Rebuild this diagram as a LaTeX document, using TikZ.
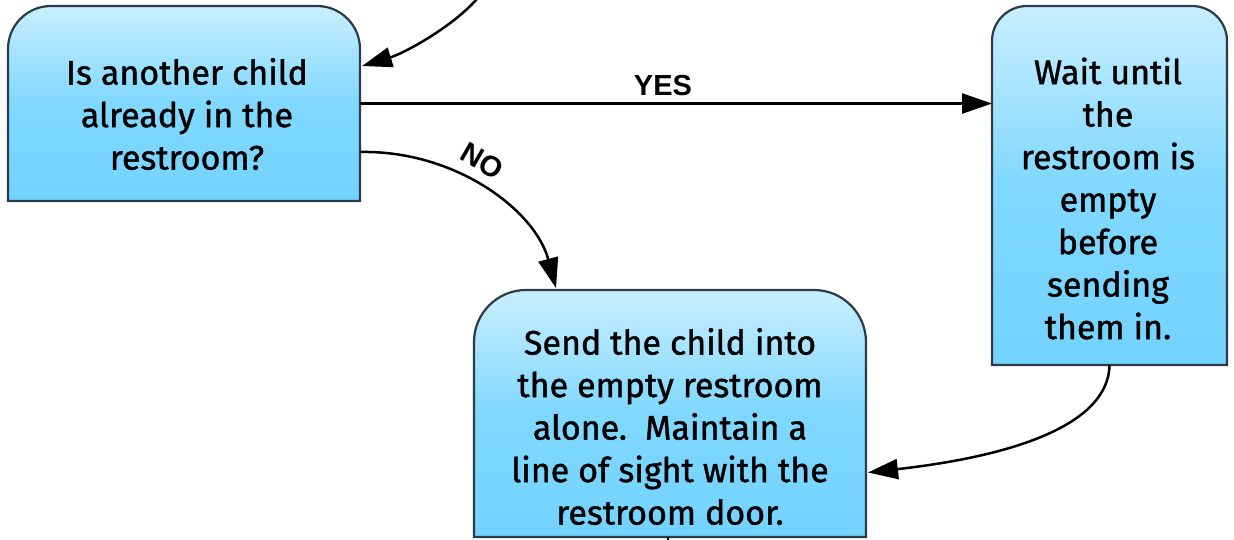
\documentclass[tikz,border=0pt]{standalone}
\usepackage{fontspec}
\setmainfont{Fira Sans}[FakeBold=1.2]
\newfontfamily\boxfont{Fira Sans}[FakeBold=1.2]
\newfontfamily\labelfont{Liberation Sans}
\usetikzlibrary{arrows.meta,calc}

\definecolor{boxtop}{RGB}{200,238,255}
\definecolor{boxmid}{RGB}{128,216,255}
\definecolor{boxbot}{RGB}{115,211,255}
\definecolor{boxline}{RGB}{45,58,72}

\begin{document}
\begin{tikzpicture}[x=1pt,y=-1pt,
 frame/.style={draw=none, inner sep=0pt, outer sep=0pt},
 boxtext/.style={align=center, font=\boxfont\fontsize{34}{42.5}\selectfont, inner sep=0pt},
 shapefill/.style={draw=boxline, line width=2.2pt, top color=boxtop, bottom color=boxbot, middle color=boxmid},
 conn/.style={draw=black, line width=2.5pt, -{Triangle[length=30pt,width=20pt]}},
 lbl/.style={font=\labelfont\bfseries\fontsize{29}{32}\selectfont, inner sep=0pt}]

\useasboundingbox (0,0) rectangle (1234,539);

% box frames
\node[frame, minimum width=352pt, minimum height=195pt] (A) at (184,103.5) {};
\node[frame, minimum width=235pt, minimum height=359pt] (B) at (1109.5,185.5) {};
\node[frame, minimum width=392pt, minimum height=247pt] (C) at (670,413.5) {};

\path[shapefill] (A.south west) -- ($(A.north west)+(0,43)$) arc[start angle=180,end angle=90,radius=43pt]
  -- ($(A.north east)+(-43,0)$) arc[start angle=90,end angle=0,radius=43pt] -- (A.south east) -- cycle;
\path[shapefill] (B.south west) -- ($(B.north west)+(0,35)$) arc[start angle=180,end angle=90,radius=35pt]
  -- ($(B.north east)+(-35,0)$) arc[start angle=90,end angle=0,radius=35pt] -- (B.south east) -- cycle;
\path[shapefill] (C.south west) -- ($(C.north west)+(0,52)$) arc[start angle=180,end angle=90,radius=52pt]
  -- ($(C.north east)+(-52,0)$) arc[start angle=90,end angle=0,radius=52pt] -- (C.south east) -- cycle;

% texts
\node[boxtext] (At) at (187,114) {Is another child\\already in the\\restroom?};
\node[boxtext] (Bt) at (1108,198.5) {Wait until\\the\\restroom is\\empty\\before\\sending\\them in.};
\node[boxtext] (Ct) at (670,426.5) {Send the child into\\the empty restroom\\alone.\ \ Maintain a\\line of sight with the\\restroom door.};

% connectors
\coordinate (inA) at (484,-10);
\draw[conn] (inA) .. controls (462,22) and (405,53) .. ($(A.north east)+(2,60)$);
\draw[conn] (A.east) -- (B.west |- A.east);
\node[lbl] (yes) at (663,86) {YES};
\draw[conn] ($(A.east)+(0,48.5)$) .. controls (455,150) and (535,210) .. ($(C.north west)+(82,-2)$);
\node[lbl, rotate=-30] (no) at (482,161) {NO};
\draw[conn] (B.south) .. controls (1108,440) and (960,462) .. ($(C.east)+(2,59)$);
\coordinate (outC) at (668,570);
\draw[line width=2.5pt] (C.south -| outC) -- (outC);
\end{tikzpicture}
\end{document}
